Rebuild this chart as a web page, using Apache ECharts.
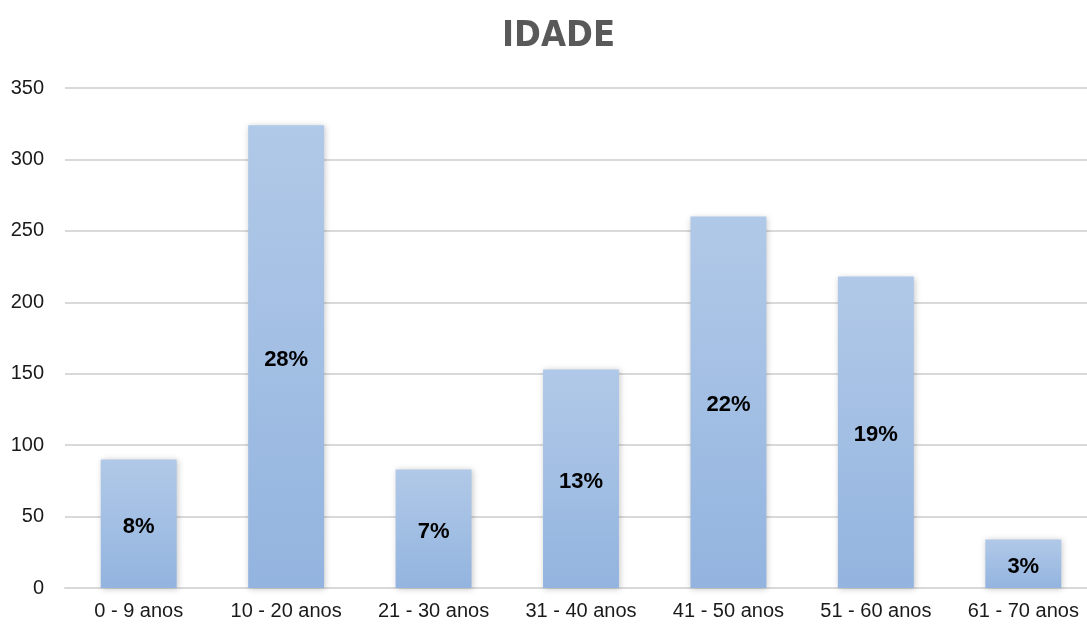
<!DOCTYPE html>
<html>
<head>
<meta charset="utf-8">
<script src="https://cdn.jsdelivr.net/npm/echarts@6/dist/echarts.min.js"></script>
<style>
  html, body { margin: 0; padding: 0; background: #ffffff; }
  #chart { width: 1087px; height: 627px; }
</style>
</head>
<body>
<div id="chart"></div>
<script>
// Age groups and respondent counts
const categories = ['0 - 9 anos', '10 - 20 anos', '21 - 30 anos', '31 - 40 anos', '41 - 50 anos', '51 - 60 anos', '61 - 70 anos'];
const counts = [90, 324, 83, 153, 260, 218, 34];
const yTicks = [0, 50, 100, 150, 200, 250, 300, 350];

const total = counts.reduce((a, b) => a + b, 0);

const chart = echarts.init(document.getElementById('chart'), null, { renderer: 'canvas' });

chart.setOption({
  animation: false,
  backgroundColor: '#ffffff',
  title: {
    text: 'IDADE',
    left: 497,
    top: 14,
    textStyle: {
      fontFamily: 'DejaVu Sans Condensed, Liberation Sans Narrow, sans-serif',
      fontWeight: 'bold',
      fontSize: 36,
      color: '#595959'
    }
  },
  // plot area runs a little past the right edge of the page
  grid: { left: 65, width: 1032, top: 88, bottom: 39, containLabel: false, outerBoundsMode: 'none' },
  xAxis: {
    type: 'category',
    data: categories,
    axisLine: { show: true, lineStyle: { color: '#d9d9d9', width: 2 } },
    axisTick: { show: false },
    axisLabel: {
      color: '#1a1a1a',
      fontSize: 20,
      fontFamily: 'Liberation Sans, Arial, sans-serif',
      margin: 13,
      interval: 0
    }
  },
  yAxis: {
    type: 'value',
    min: yTicks[0],
    max: yTicks[yTicks.length - 1],
    interval: 50,
    axisLine: { show: false },
    axisTick: { show: false },
    splitLine: { lineStyle: { color: '#d9d9d9', width: 2 } },
    axisLabel: {
      color: '#1a1a1a',
      fontSize: 20,
      fontFamily: 'Liberation Sans, Arial, sans-serif',
      margin: 21
    }
  },
  series: [{
    type: 'bar',
    data: counts,
    barWidth: '51.5%',
    itemStyle: {
      color: new echarts.graphic.LinearGradient(0, 0, 0, 1, [
        { offset: 0, color: '#b1c9e8' },
        { offset: 1, color: '#93b4df' }
      ]),
      shadowColor: 'rgba(0,0,0,0.22)',
      shadowBlur: 6,
      shadowOffsetX: 1,
      shadowOffsetY: 1
    },
    label: {
      show: true,
      position: 'inside',
      offset: [0, 3],
      formatter: p => Math.round(p.value / total * 100) + '%',
      color: '#000000',
      fontWeight: 'bold',
      fontSize: 22,
      fontFamily: 'Liberation Sans, Arial, sans-serif'
    }
  }]
});
</script>
</body>
</html>
